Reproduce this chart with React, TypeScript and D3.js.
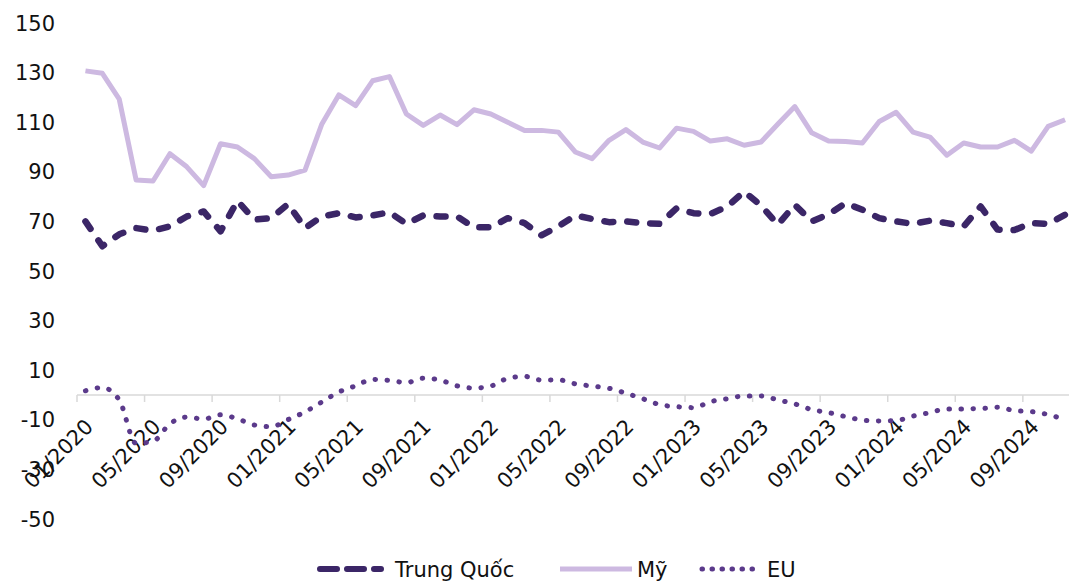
import React, { useEffect, useRef } from 'react'
import * as d3 from 'd3'

// monthly categories 01/2020 .. 11/2024
const years = [2020, 2021, 2022, 2023, 2024]
const months = years.flatMap(y => d3.range(1, 13).map(m => `${String(m).padStart(2, '0')}/${y}`)).slice(0, 59)

const trungQuoc = [70, 60, 64.8, 67.3, 66.3, 68, 72, 74, 66, 78.3, 70.7, 71.3, 77, 67.3, 72, 73.3, 71.6, 72.4, 73.7, 69,
  72.4, 72, 72, 67.6, 67.6, 71.3, 69.3, 64.4, 68, 72.4, 71, 69.7, 70, 69.3, 69, 75.3, 73.3, 73, 76, 82,
  76.4, 68.7, 76.7, 70, 72.9, 77.3, 74.7, 71.3, 70, 69, 70.3, 69.3, 68, 76, 66.7, 66.5, 69.3, 69, 72.7]

const my = [130.7, 129.7, 119.3, 86.7, 86.3, 97.3, 92, 84.4, 101.3, 100, 95.3, 88, 88.7, 90.7, 109.3, 121, 116.7, 126.7, 128.4, 113.3,
  108.7, 112.9, 109, 115, 113.3, 110, 106.7, 106.7, 106, 98, 95.3, 102.7, 107, 102, 99.6, 107.6, 106.3, 102.4, 103.3, 100.7,
  102, 109.3, 116.3, 105.7, 102.4, 102.2, 101.6, 110.3, 114, 106, 104, 96.7, 101.6, 100, 100, 102.7, 98.3, 108.3, 111]

const eu = [1.7, 3, -2, -19.5, -18.7, -11.6, -8.9, -9.7, -8, -9.6, -12.1, -12.8, -9.9, -6.8, -2.8, 1.2, 3.7, 6.3, 5.9, 5,
  6.8, 6, 3.7, 2.8, 3.6, 6.7, 7.5, 6, 6.1, 4.5, 3.6, 2.7, 0.7, -1.5, -3.9, -4.7, -5.1, -2.7, -1.5, -0.4,
  -0.4, -2, -3.6, -5.9, -7.1, -8.7, -10.1, -10.5, -10.3, -8.5, -7.1, -5.6, -5.6, -5.5, -4.9, -6.3, -6.7, -7.9, -10]

const yTicks = [150, 130, 110, 90, 70, 50, 30, 10, -10, -30, -50]

const seriesNames = ['Trung Quốc', 'Mỹ', 'EU']
const colors = ['#3b2667', '#cdb9e1', '#5b3a8b']

const W = 1069, H = 582
const FONT = '"DejaVu Sans", sans-serif'

export default function App() {
  const ref = useRef<SVGSVGElement>(null)

  useEffect(() => {
    const svg = d3.select(ref.current)
    svg.selectAll('*').remove()

    const x = d3.scaleBand<string>().domain(months).range([77, 77 + 59 * 16.89]).paddingInner(0).paddingOuter(0)
    const y = d3.scaleLinear().domain([-50, 150]).range([519, 23])
    const cx = (i: number) => (x(months[i]) as number) + x.bandwidth() / 2

    // y labels
    svg.append('g').selectAll('text').data(yTicks).enter().append('text')
      .attr('x', 55).attr('y', d => y(d)).attr('dy', '0.36em')
      .attr('text-anchor', 'end')
      .style('font', `21px ${FONT}`).style('fill', '#111')
      .text(d => d)

    // x axis line at 0
    const axis = svg.append('g')
    axis.append('line')
      .attr('x1', 77).attr('x2', W).attr('y1', y(0)).attr('y2', y(0))
      .style('stroke', '#d9d9d9').style('stroke-width', 1.5)
    const tickIdx = months.map((m, i) => i).filter(i => i % 4 === 0)
    axis.selectAll('.tick').data(tickIdx).enter().append('line')
      .attr('x1', i => x(months[i]) as number).attr('x2', i => x(months[i]) as number)
      .attr('y1', y(0)).attr('y2', y(0) + 7)
      .style('stroke', '#d9d9d9').style('stroke-width', 1.5)
    axis.selectAll('.lbl').data(tickIdx).enter().append('text')
      .attr('transform', i => `translate(${cx(i) + 9},${y(0) + 33}) rotate(-45)`)
      .attr('text-anchor', 'end')
      .style('font', `21px ${FONT}`).style('fill', '#111')
      .text(i => months[i])

    const lineLin = d3.line<number>().x((d, i) => cx(i)).y(d => y(d))
    const lineSmooth = d3.line<number>().x((d, i) => cx(i)).y(d => y(d)).curve(d3.curveMonotoneX)

    svg.append('path').attr('d', lineLin(my))
      .style('fill', 'none').style('stroke', colors[1]).style('stroke-width', 5)
      .style('stroke-linejoin', 'round')
    svg.append('path').attr('d', lineLin(trungQuoc))
      .style('fill', 'none').style('stroke', colors[0]).style('stroke-width', 6.5)
      .style('stroke-dasharray', '9 14').style('stroke-linecap', 'round').style('stroke-linejoin', 'round')
    svg.append('path').attr('d', lineSmooth(eu))
      .style('fill', 'none').style('stroke', colors[2]).style('stroke-width', 5)
      .style('stroke-dasharray', '0.5 11.5').style('stroke-linecap', 'round')

    // legend
    const lg = svg.append('g')
    const items = [
      { x1: 320, x2: 381, tx: 395, dash: '17 10', w: 6, cap: 'round' },
      { x1: 560, x2: 632, tx: 637, dash: null, w: 5, cap: 'butt' },
      { x1: 702, x2: 758, tx: 767, dash: '0.5 9.5', w: 5, cap: 'round' },
    ]
    items.forEach((it, k) => {
      lg.append('line').attr('x1', it.x1).attr('x2', it.x2).attr('y1', 569).attr('y2', 569)
        .style('stroke', colors[k]).style('stroke-width', it.w)
        .style('stroke-dasharray', it.dash).style('stroke-linecap', it.cap)
      lg.append('text').attr('x', it.tx).attr('y', 569).attr('dy', '0.36em')
        .style('font', `21px ${FONT}`).style('fill', '#111')
        .text(seriesNames[k])
    })
  }, [])

  return <svg ref={ref} width={W} height={H} style={{ position: 'absolute', left: 0, top: 0, background: '#fff' }} />
}
